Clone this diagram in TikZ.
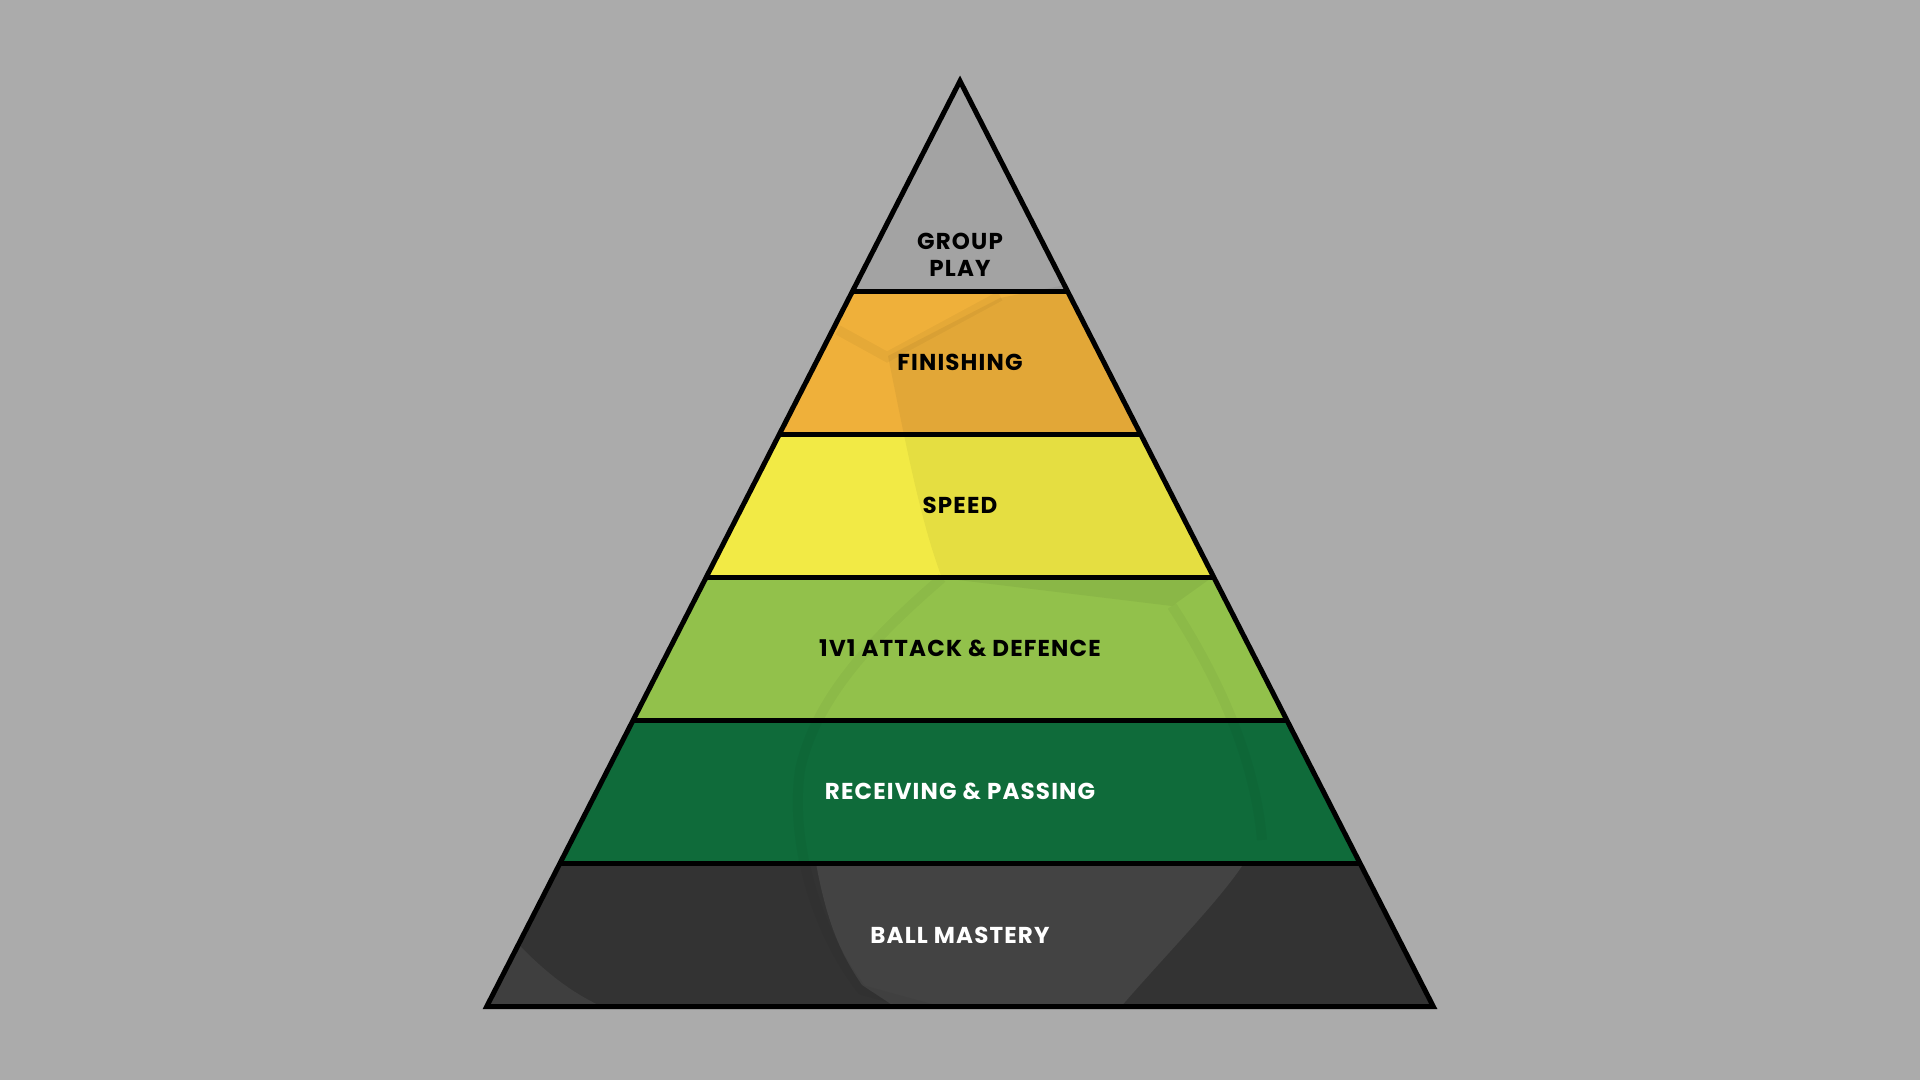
\documentclass[tikz,border=0pt]{standalone}
\usepackage{fontspec}
\setmainfont{Poppins}
\usetikzlibrary{calc}

\definecolor{bggray}{HTML}{ABABAB}
\definecolor{topgray}{HTML}{A3A3A3}
\definecolor{finorange}{HTML}{EFB03A}
\definecolor{speedyellow}{HTML}{F2EA45}
\definecolor{lightgreen}{HTML}{92C14B}
\definecolor{darkgreen}{HTML}{0F6B3A}
\definecolor{darkgray}{HTML}{333333}

\tikzset{
  level/.style={font=\bfseries\fontsize{23}{27}\selectfont\addfontfeatures{LetterSpace=5},
    align=center, inner sep=0pt},
  darklabel/.style={level, text=black},
  lightlabel/.style={level, text=white},
  rim/.style={line width=5pt, line join=miter},
  divider/.style={line width=4.5pt}
}

\begin{document}
\begin{tikzpicture}[x=1pt,y=-1pt]
  \fill[bggray] (0,0) rectangle (1920,1080);
  \coordinate (apex) at (960,81);
  \coordinate (bl) at (486.7,1006.5);
  \coordinate (br) at (1433.3,1006.5);

  % the bands, top to bottom
  \foreach \a/\b/\c in {0/0.2273/topgray, 0.2273/0.3819/finorange,
    0.3819/0.5364/speedyellow, 0.5364/0.6910/lightgreen,
    0.6910/0.8455/darkgreen, 0.8455/1/darkgray}
  {\fill[\c] ($(apex)!\a!(bl)$) -- ($(apex)!\b!(bl)$)
     -- ($(apex)!\b!(br)$) -- ($(apex)!\a!(br)$) -- cycle;}

  % faint ball panels
  \begin{scope}
    \clip (apex) -- (bl) -- (br) -- cycle;
    \fill[black,opacity=.05] (1090,280) -- (1000,298) -- (888,356)
      .. controls (905,440) and (920,520) .. (942,578)
      -- (1172,606) -- (1320,500) -- (1320,280) -- cycle;
    \fill[white,opacity=.08] (816,863) .. controls (828,930) and (845,960) .. (862,985)
      -- (900,1010) -- (1118,1010) .. controls (1170,950) and (1220,900) .. (1244,863) -- cycle;
    \fill[white,opacity=.06] (480,900) .. controls (520,950) and (560,990) .. (610,1010) -- (480,1010) -- cycle;
    \draw[black,opacity=.04,line width=10pt] (838,330) -- (887,357) -- (1000,296);
    \draw[black,opacity=.035,line width=10pt] (942,578)
      .. controls (870,640) and (815,700) .. (800,770)
      .. controls (790,840) and (815,930) .. (862,990) -- (935,1010);
    \draw[black,opacity=.035,line width=10pt] (1172,606)
      .. controls (1220,680) and (1255,760) .. (1262,840);
  \end{scope}

  % dividers and outline
  \foreach \t in {0.2273,0.3819,0.5364,0.6910,0.8455}
  {\draw[divider] ($(apex)!\t!(bl)$) -- ($(apex)!\t!(br)$);}
  \draw[rim] (apex) -- (bl) -- (br) -- cycle;

  \node[darklabel] (group) at (960,254.5) {GROUP\\PLAY};
  \node[darklabel, anchor=base] (finishing) at (960,370) {FINISHING};
  \node[darklabel, anchor=base] (speed) at (960,513) {SPEED};
  \node[darklabel, anchor=base] (onevone) at (960,656) {1V1 ATTACK \& DEFENCE};
  \node[lightlabel, anchor=base] (receiving) at (960,799) {RECEIVING \& PASSING};
  \node[lightlabel, anchor=base] (mastery) at (960,943.5) {BALL MASTERY};
\end{tikzpicture}
\end{document}
